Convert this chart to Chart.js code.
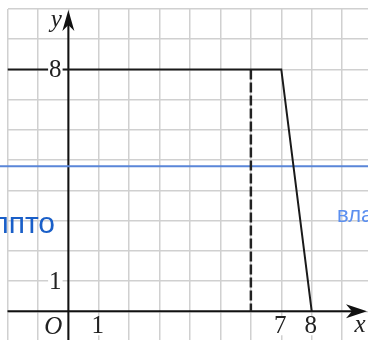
<!DOCTYPE html>
<html>
<head>
<meta charset="utf-8">
<script src="https://cdn.jsdelivr.net/npm/chart.js@4.4.1/dist/chart.umd.min.js"></script>
<style>
    html, body { margin: 0; padding: 0; background: #fff; }
    #graph { display: block; }
</style>
</head>
<body>
<canvas id="graph" width="368" height="340"></canvas>
<script>
    // values
    const graphX = [-2, 7, 8];
    const graphY = [8, 8, 0];
    const dashX = [6, 6];
    const dashY = [8, 0];
    const overlayX = [-2.26, 9.86];
    const overlayY = [4.8, 4.8];
    const xTickLabels = [1, 7, 8];
    const yTickLabels = [1, 8];

    function Points(xs, ys) {
        return xs.map(function (v, i) { return { x: v, y: ys[i] }; });
    }

    let axesPlugin = {
        id: 'axes',
        beforeDatasetsDraw: function (chart) {
            let ctx = chart.ctx, area = chart.chartArea;
            let x0 = chart.scales.x.getPixelForValue(0);
            let y0 = chart.scales.y.getPixelForValue(0);
            ctx.save();
            ctx.strokeStyle = '#111';
            ctx.fillStyle = '#111';
            ctx.lineWidth = 2;
            ctx.beginPath();
            ctx.moveTo(area.left, y0);
            ctx.lineTo(area.right - 8, y0);
            ctx.moveTo(x0, area.bottom);
            ctx.lineTo(x0, area.top + 8);
            ctx.stroke();
            // x arrow
            let tip = area.right - 1;
            ctx.beginPath();
            ctx.moveTo(tip, y0);
            ctx.lineTo(tip - 21, y0 - 7);
            ctx.lineTo(tip - 15, y0);
            ctx.lineTo(tip - 21, y0 + 7);
            ctx.closePath();
            ctx.fill();
            // y arrow
            tip = area.top + 1;
            ctx.beginPath();
            ctx.moveTo(x0, tip);
            ctx.lineTo(x0 - 6, tip + 21);
            ctx.lineTo(x0, tip + 15);
            ctx.lineTo(x0 + 6, tip + 21);
            ctx.closePath();
            ctx.fill();
            ctx.restore();
        },
        afterDatasetsDraw: function (chart) {
            let ctx = chart.ctx;
            let sx = chart.scales.x, sy = chart.scales.y;
            let x0 = sx.getPixelForValue(0), y0 = sy.getPixelForValue(0);
            ctx.save();
            ctx.textAlign = 'center';
            ctx.textBaseline = 'middle';
            ctx.font = '25px "Liberation Serif"';
            function Label(text, px, py) {
                let w = ctx.measureText(text).width;
                ctx.fillStyle = '#fff';
                ctx.fillRect(px - w / 2 - 1, py - 9, w + 2, 18);
                ctx.fillStyle = '#222';
                ctx.fillText(text, px, py);
            }
            yTickLabels.forEach(function (v) {
                Label(String(v), x0 - 13, sy.getPixelForValue(v) + 1);
            });
            xTickLabels.forEach(function (v) {
                Label(String(v), sx.getPixelForValue(v) - 1, y0 + 15);
            });
            ctx.font = 'italic 25px "Liberation Serif"';
            ctx.fillStyle = '#222';
            ctx.fillText('O', x0 - 15, y0 + 16);
            ctx.fillText('y', x0 - 12, sy.top + 11);
            ctx.fillText('x', sx.right - 8, y0 + 14);
            ctx.restore();
        },
        afterDraw: function (chart) {
            let ctx = chart.ctx;
            ctx.save();
            ctx.textBaseline = 'alphabetic';
            ctx.font = '30px "Liberation Sans"';
            ctx.fillStyle = '#1a5fc8';
            ctx.textAlign = 'right';
            ctx.fillText('лпто', 55, 233);
            ctx.font = '22px "Liberation Sans"';
            ctx.fillStyle = '#5b8ff0';
            ctx.textAlign = 'left';
            ctx.fillText('вла', 337, 222);
            ctx.restore();
        }
    };

    function GraphChart() {
        let ctx = document.getElementById('graph').getContext('2d');
        let chart = new Chart(ctx, {
            type: 'scatter',
            data: {
                datasets: [
                    {
                        data: Points(graphX, graphY),
                        showLine: true,
                        borderColor: '#1a1a1a',
                        borderWidth: 2,
                        pointRadius: 0,
                    },
                    {
                        data: Points(dashX, dashY),
                        showLine: true,
                        borderColor: '#222',
                        borderWidth: 2.5,
                        borderDash: [10, 3],
                        pointRadius: 0,
                    },
                    {
                        data: Points(overlayX, overlayY),
                        showLine: true,
                        borderColor: '#5a86d8',
                        borderWidth: 2,
                        pointRadius: 0,
                        clip: false,
                    },
                ]
            },
            options: {
                responsive: false,
                animation: false,
                devicePixelRatio: 1,
                layout: { padding: { left: 7.5, top: 9, right: 0, bottom: 0 } },
                plugins: {
                    legend: { display: false },
                    tooltip: { enabled: false },
                },
                scales: {
                    x: {
                        type: 'linear',
                        min: -2,
                        max: 9.85,
                        ticks: { display: false, stepSize: 1, includeBounds: false },
                        grid: { color: '#d0d0d0', lineWidth: 1.5, drawTicks: false },
                        border: { display: false },
                    },
                    y: {
                        type: 'linear',
                        min: -0.95,
                        max: 10,
                        ticks: { display: false, stepSize: 1, includeBounds: false },
                        grid: { color: '#d0d0d0', lineWidth: 1.5, drawTicks: false },
                        border: { display: false },
                    }
                }
            },
            plugins: [axesPlugin]
        });
    }

    window.onload = function () {
        GraphChart();
    }
</script>
</body>
</html>
